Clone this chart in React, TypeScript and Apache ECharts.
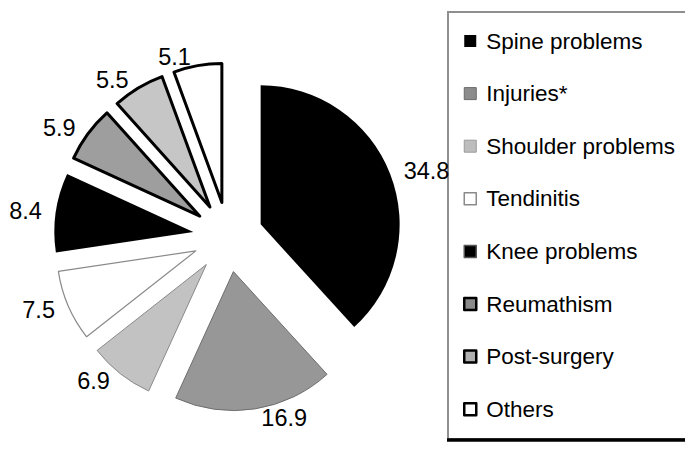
import React, { useEffect, useRef } from "react";
import * as echarts from "echarts";

const categories = [
  "Spine problems",
  "Injuries*",
  "Shoulder problems",
  "Tendinitis",
  "Knee problems",
  "Reumathism",
  "Post-surgery",
  "Others",
];
const values = [34.8, 16.9, 6.9, 7.5, 8.4, 5.9, 5.5, 5.1];

const FONT = "'Liberation Sans', Arial, sans-serif";

const sliceStyles = [
  { color: "#000000", borderColor: "#000000", borderWidth: 0 },
  { color: "#979797", borderColor: "#6e6e6e", borderWidth: 1 },
  { color: "#c2c2c2", borderColor: "#8a8a8a", borderWidth: 1 },
  { color: "#ffffff", borderColor: "#8a8a8a", borderWidth: 1.2 },
  { color: "#000000", borderColor: "#000000", borderWidth: 0 },
  { color: "#9e9e9e", borderColor: "#000000", borderWidth: 3 },
  { color: "#c6c6c6", borderColor: "#000000", borderWidth: 3 },
  { color: "#ffffff", borderColor: "#000000", borderWidth: 3 },
];

const legendStyles = [
  { color: "#000000", borderColor: "#000000", borderWidth: 0 },
  { color: "#8c8c8c", borderColor: "#6a6a6a", borderWidth: 1 },
  { color: "#bdbdbd", borderColor: "#9a9a9a", borderWidth: 1 },
  { color: "#ffffff", borderColor: "#8a8a8a", borderWidth: 1.5 },
  { color: "#000000", borderColor: "#555555", borderWidth: 1.5 },
  { color: "#8a8a8a", borderColor: "#000000", borderWidth: 2.5 },
  { color: "#b0b0b0", borderColor: "#000000", borderWidth: 2.5 },
  { color: "#ffffff", borderColor: "#000000", borderWidth: 2.5 },
];

export default function App() {
  const ref = useRef<HTMLDivElement>(null);

  useEffect(() => {
    document.body.style.margin = "0";
    const chart = echarts.init(ref.current!, undefined, { renderer: "svg" });
    const option = {
      animation: false,
      backgroundColor: "#ffffff",
      textStyle: { fontFamily: FONT },
      legend: {
        orient: "vertical",
        left: 463,
        top: 28,
        padding: 0,
        itemWidth: 12,
        itemHeight: 12,
        itemGap: 26.6,
        icon: "rect",
        selectedMode: false,
        textStyle: {
          fontFamily: FONT,
          fontSize: 22.5,
          lineHeight: 26,
          color: "#000",
          padding: [0, 0, 0, 5],
        },
        data: categories.map((name, i) => ({
          name,
          itemStyle: legendStyles[i],
        })),
      },
      graphic: [
        {
          type: "rect",
          shape: { x: 448, y: 12, width: 260, height: 427 },
          style: { fill: "none", stroke: "#8f8f8f", lineWidth: 2 },
          silent: true,
        },
        {
          type: "line",
          shape: { x1: 447, y1: 440, x2: 700, y2: 440 },
          style: { stroke: "#000", lineWidth: 3.5 },
          silent: true,
        },
      ],
      series: [
        {
          type: "pie",
          center: [228, 237],
          radius: 139,
          startAngle: 90,
          clockwise: true,
          selectedMode: "multiple",
          selectedOffset: 35,
          avoidLabelOverlap: false,
          emphasis: { disabled: true },
          label: {
            show: true,
            position: "outside",
            formatter: "{c}",
            fontFamily: FONT,
            fontSize: 23.5,
            color: "#000",
          },
          labelLine: { show: false, length: 9, length2: 0 },
          data: categories.map((name, i) => ({
            name,
            value: values[i],
            selected: true,
            itemStyle: sliceStyles[i],
            select: { itemStyle: sliceStyles[i] },
          })),
        },
      ],
    };
    chart.setOption(option as any);
    return () => chart.dispose();
  }, []);

  return <div ref={ref} style={{ width: 685, height: 449 }} />;
}
